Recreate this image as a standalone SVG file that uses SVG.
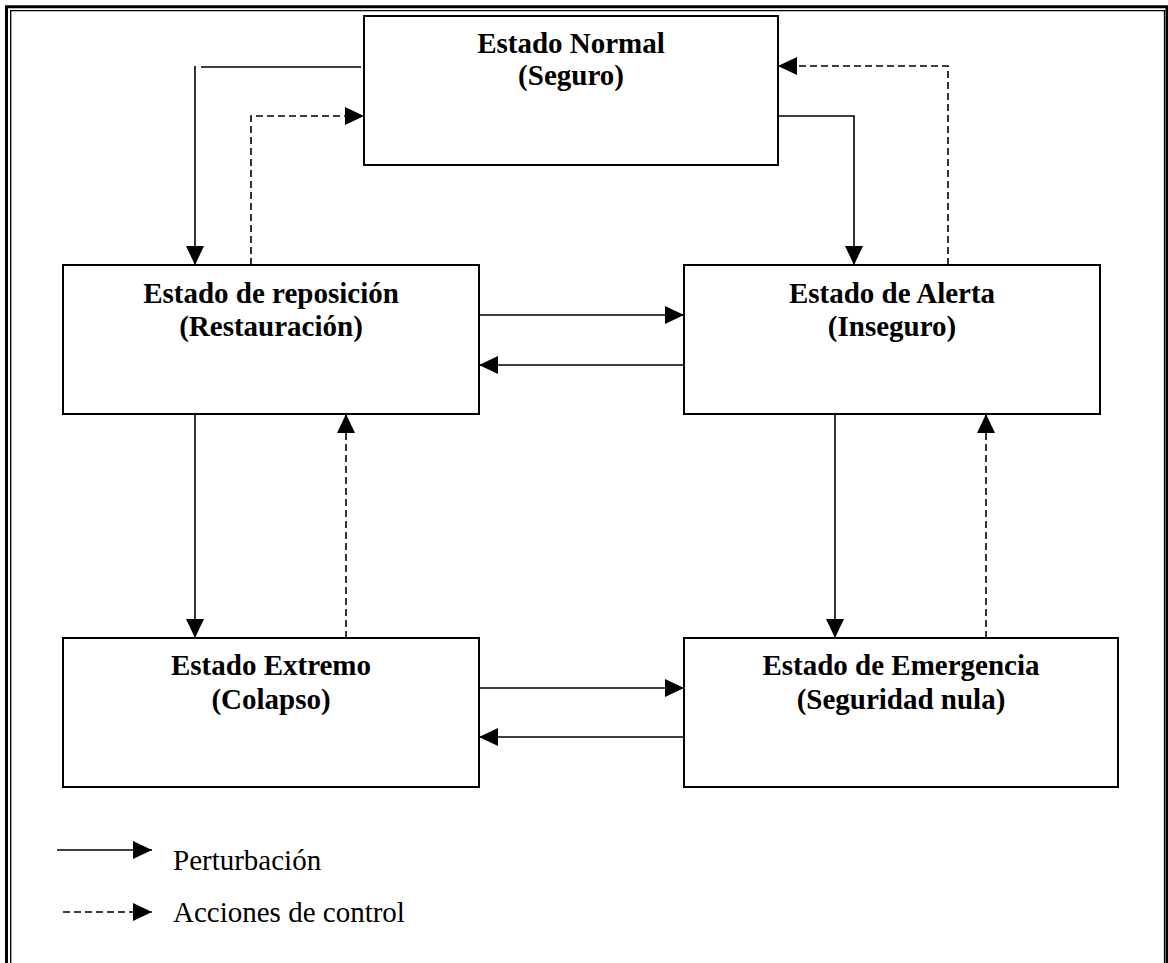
<svg xmlns="http://www.w3.org/2000/svg" width="1168" height="963" viewBox="0 0 1168 963">
  <style>
    .box { fill: #fff; stroke: #000; stroke-width: 2; }
    .title { font-family: "Liberation Serif", "Times New Roman", serif; font-weight: bold; font-size: 29px; fill: #000; text-anchor: middle; }
    .legend { font-family: "Liberation Serif", "Times New Roman", serif; font-size: 29px; fill: #000; }
    .solid { fill: none; stroke: #000; stroke-width: 1.6; }
    .dash { fill: none; stroke: #000; stroke-width: 1.6; stroke-dasharray: 7 4; }
  </style>
  <defs>
    <marker id="head" viewBox="0 0 19 18" refX="19" refY="9" markerWidth="19" markerHeight="18" markerUnits="userSpaceOnUse" orient="auto">
      <path d="M0,0 L19,9 L0,18 Z" fill="#000"/>
    </marker>
  </defs>

  <rect width="1168" height="963" fill="#fff"/>

  <!-- page frame: thick outer rule with thin inner rule, open at the bottom -->
  <g id="frame" fill="none" stroke="#000">
    <path d="M6.5,963 V6.8 H1167 V963" stroke-width="3"/>
    <path d="M10.7,963 V10.7 H1164.5 V963" stroke-width="1.3"/>
  </g>

  <!-- state boxes -->
  <g id="normal">
    <rect class="box" x="364" y="16" width="414" height="149"/>
    <text class="title" x="571" y="53">Estado Normal</text>
    <text class="title" x="571" y="85">(Seguro)</text>
  </g>
  <g id="reposicion">
    <rect class="box" x="63" y="265" width="416" height="149"/>
    <text class="title" x="271" y="303">Estado de reposición</text>
    <text class="title" x="271" y="336">(Restauración)</text>
  </g>
  <g id="alerta">
    <rect class="box" x="684" y="265" width="416" height="149"/>
    <text class="title" x="892" y="303">Estado de Alerta</text>
    <text class="title" x="892" y="336">(Inseguro)</text>
  </g>
  <g id="extremo">
    <rect class="box" x="63" y="638" width="416" height="149"/>
    <text class="title" x="271" y="675">Estado Extremo</text>
    <text class="title" x="271" y="709">(Colapso)</text>
  </g>
  <g id="emergencia">
    <rect class="box" x="684" y="638" width="434" height="149"/>
    <text class="title" x="901" y="675">Estado de Emergencia</text>
    <text class="title" x="901" y="709">(Seguridad nula)</text>
  </g>

  <!-- transitions -->
  <g id="connectors">
    <!-- Normal -> Reposición -->
    <path class="solid" d="M361,67 H201"/>
    <path class="solid" d="M195,66 V265" marker-end="url(#head)"/>
    <!-- Reposición -> Normal (control) -->
    <path class="dash" d="M251,265 V116 H364" marker-end="url(#head)"/>
    <!-- Normal -> Alerta -->
    <path class="solid" d="M778,116 H854 V265" marker-end="url(#head)"/>
    <!-- Alerta -> Normal (control) -->
    <path class="dash" d="M948,265 V66 H778" marker-end="url(#head)"/>
    <!-- Reposición <-> Alerta -->
    <path class="solid" d="M479,315 H684" marker-end="url(#head)"/>
    <path class="solid" d="M684,365 H479" marker-end="url(#head)"/>
    <!-- Reposición -> Extremo -->
    <path class="solid" d="M195,414 V638" marker-end="url(#head)"/>
    <!-- Extremo -> Reposición (control) -->
    <path class="dash" d="M346,638 V414" marker-end="url(#head)"/>
    <!-- Alerta -> Emergencia -->
    <path class="solid" d="M835,414 V638" marker-end="url(#head)"/>
    <!-- Emergencia -> Alerta (control) -->
    <path class="dash" d="M986,638 V414" marker-end="url(#head)"/>
    <!-- Extremo <-> Emergencia -->
    <path class="solid" d="M479,688 H684" marker-end="url(#head)"/>
    <path class="solid" d="M684,737 H479" marker-end="url(#head)"/>
  </g>

  <!-- key -->
  <g id="legend">
    <path class="solid" d="M57,850 H152" marker-end="url(#head)"/>
    <text class="legend" x="173" y="870">Perturbación</text>
    <path class="dash" d="M63,912 H152" marker-end="url(#head)"/>
    <text class="legend" x="173" y="922">Acciones de control</text>
  </g>
</svg>
